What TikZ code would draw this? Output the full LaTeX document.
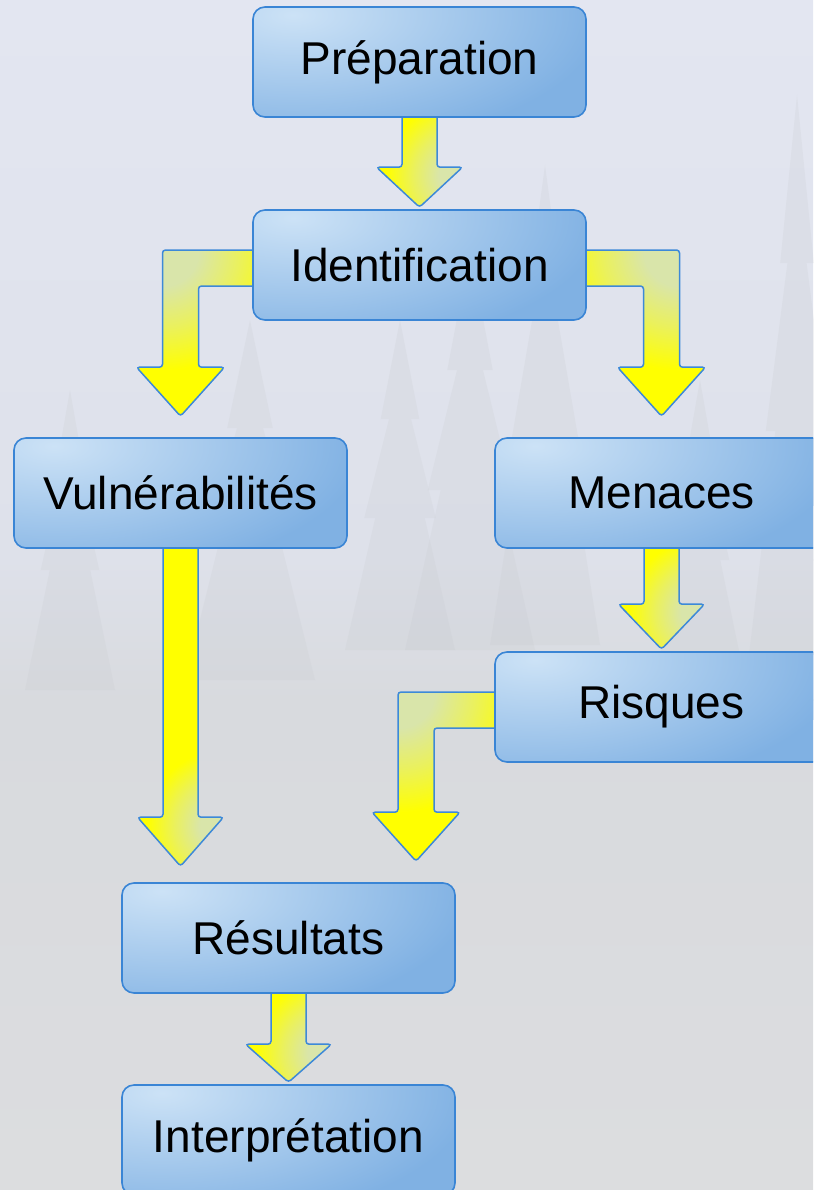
\documentclass[tikz,border=0pt]{standalone}
\usepackage{fontspec}
\setmainfont{Liberation Sans}
\usetikzlibrary{calc}

\definecolor{bgtop}{HTML}{E3E6F1}
\definecolor{bgmid}{HTML}{DEE1EA}
\definecolor{bgshore}{HTML}{D8DADE}
\definecolor{bgbottom}{HTML}{DCDDDF}
\definecolor{treefill}{HTML}{C6C9CD}
\definecolor{boxlight}{HTML}{CCE2F6}
\definecolor{boxbase}{HTML}{80B1E3}
\definecolor{boxline}{HTML}{3A85D5}
\definecolor{arrowyellow}{HTML}{FFFF00}
\definecolor{arrowpale}{HTML}{D9E5AA}
\definecolor{arrowline}{HTML}{3D89D8}

% pale glow that reaches full yellow at a fifth of the shading radius
\pgfdeclareradialshading{arrowglow}{\pgfpoint{0bp}{0bp}}{%
  color(0bp)=(arrowpale); color(1.5bp)=(arrowpale);
  color(3.2bp)=(arrowpale!55!arrowyellow);
  color(5bp)=(arrowyellow); color(50bp)=(arrowyellow)}

\pgfdeclarelayer{bg}
\pgfdeclarelayer{arrows}
\pgfsetlayers{bg,arrows,main}

\tikzset{
  stage/.style={rectangle, rounded corners=12, draw=boxline, line width=1.6,
    fill=boxbase, minimum width=333, minimum height=110, inner sep=0,
    font=\fontsize{46}{55}\selectfont, text=black,
    path picture={\fill[inner color=boxlight, outer color=boxbase]
      ($(path picture bounding box.north west)+(40,8)$)
      ellipse [x radius=310, y radius=135];}},
  blockedge/.style={draw=arrowline, line width=1.5, rounded corners=3},
}

% faint conifer silhouette: x, apex y, height, half width at the base
\newcommand\firtree[4]{%
  \fill[treefill, opacity=0.2] (#1,#2)
    -- ({#1+0.35*#4},{#2+0.3*#3}) -- ({#1+0.2*#4},{#2+0.3*#3})
    -- ({#1+0.65*#4},{#2+0.6*#3}) -- ({#1+0.45*#4},{#2+0.6*#3})
    -- ({#1+#4},{#2+#3}) -- ({#1-#4},{#2+#3})
    -- ({#1-0.45*#4},{#2+0.6*#3}) -- ({#1-0.65*#4},{#2+0.6*#3})
    -- ({#1-0.2*#4},{#2+0.3*#3}) -- ({#1-0.35*#4},{#2+0.3*#3}) -- cycle;}

% glow square centred on a point, half side five times the glow radius
\newcommand\glowat[2]{%
  \fill[shading=arrowglow] ($(#1)+(-5*#2,-5*#2)$) rectangle ($(#1)+(5*#2,5*#2)$);}

% straight block arrow: source, target, gap above target, head length
\newcommand\straightblock[4]{%
  \coordinate (sa) at ($(#1.south)+(0,-3)$);
  \coordinate (ta) at ($(#1.south |- #2.north)+(0,-#3)$);
  \coordinate (ga) at ($(ta)+(42,-#4+8)$);
  \def\blockpath{($(sa)+(-17.5,0)$) -- ($(ta)+(-17.5,-#4)$) -- ($(ta)+(-43,-#4)$)
    -- (ta) -- ($(ta)+(43,-#4)$) -- ($(ta)+(17.5,-#4)$) -- ($(sa)+(17.5,0)$) -- cycle}
  \begin{scope}
    \clip[rounded corners=3] \blockpath;
    \glowat{ga}{75}
  \end{scope}
  \draw[blockedge] \blockpath;}

% bent block arrow: source, source side, side sign, target, tip x offset
\newcommand\bentblock[5]{%
  \coordinate (sa) at ($(#1.#2)+({0-(#3)*3},3)$);
  \coordinate (ta) at ($(#4.north)+(#5,-21)$);
  \coordinate (ca) at (ta |- sa);
  \coordinate (ga) at ($(ca)+({(#3)*18},-18)$);
  \def\blockpath{($(sa)+(0,-18)$) -- ($(ca)+({(#3)*18},-18)$)
    -- ($(ta)+({(#3)*18},-49)$) -- ($(ta)+({(#3)*44},-49)$) -- (ta)
    -- ($(ta)+({0-(#3)*44},-49)$) -- ($(ta)+({0-(#3)*18},-49)$)
    -- ($(ca)+({0-(#3)*18},18)$) -- ($(sa)+(0,18)$) -- cycle}
  \begin{scope}
    \clip[rounded corners=3] \blockpath;
    \glowat{ga}{120}
  \end{scope}
  \draw[blockedge] \blockpath;}

\begin{document}
\begin{tikzpicture}[x=1pt, y=-1pt]
  \useasboundingbox (0,0) rectangle (813,1190);
  \clip (0,0) rectangle (813,1190);

  % process stages
  \node[stage] (prep)   at (419.5,62)  {Préparation};
  \node[stage] (ident)  at (419.5,265) {Identification};
  \node[stage] (vuln)   at (180.5,493) {Vulnérabilités};
  \node[stage] (menace) at (661.5,493) {Menaces};
  \node[stage] (risque) at (661.5,707) {Risques};
  \node[stage] (result) at (288.5,938) {Résultats};
  \node[stage] (interp) at (288.5,1140) {Interprétation};

  % misty lake scenery behind the chart
  \begin{pgfonlayer}{bg}
    \fill[top color=bgtop, bottom color=bgmid] (0,0) rectangle (813,560);
    \fill[top color=bgmid, bottom color=bgshore] (0,559) rectangle (813,700);
    \fill[top color=bgshore, bottom color=bgbottom] (0,699) rectangle (813,1190);
    \firtree{797}{95}{560}{48}
    \firtree{545}{165}{480}{55}
    \firtree{470}{250}{400}{65}
    \firtree{400}{320}{330}{55}
    \firtree{250}{320}{360}{65}
    \firtree{70}{390}{300}{45}
    \firtree{700}{380}{300}{45}
  \end{pgfonlayer}

  % block arrows between stages
  \begin{pgfonlayer}{arrows}
    \straightblock{prep}{ident}{2}{40}
    \bentblock{ident}{west}{-1}{vuln}{0}
    \bentblock{ident}{east}{1}{menace}{0}
    \straightblock{menace}{risque}{2}{45}
    \straightblock{vuln}{result}{16}{49}
    \bentblock{risque}{west}{-1}{result}{127.5}
    \straightblock{result}{interp}{2}{38}
  \end{pgfonlayer}
\end{tikzpicture}
\end{document}
